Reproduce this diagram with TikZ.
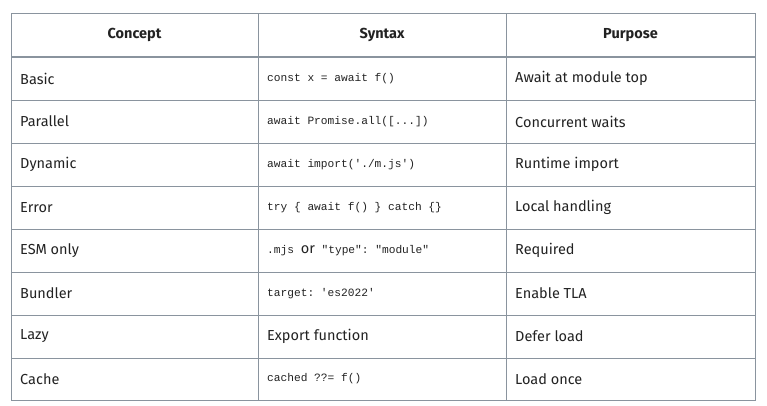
\documentclass[tikz,border=0pt]{standalone}
\usepackage{fontspec}
\setmainfont{Fira Sans}
\setmonofont{Liberation Mono}
\usetikzlibrary{positioning}
\definecolor{gridgray}{HTML}{8A949E}
\definecolor{textdark}{HTML}{222222}
\tikzset{
  cell/.style={anchor=west, font=\fontsize{14.5}{16}\selectfont, text=textdark, inner sep=0pt},
  code/.style={anchor=west, font=\ttfamily\fontsize{11.2}{13}\selectfont, text=textdark, inner sep=0pt},
  head/.style={font=\fontsize{14.5}{16}\selectfont\bfseries, text=textdark, inner sep=0pt}
}
\begin{document}
\begin{tikzpicture}[x=1pt, y=-1pt]
    \useasboundingbox (0,0) rectangle (767,405);
    % Grid
    \draw[gridgray, line width=0.8pt] (11,13) rectangle (755,400);
    \draw[gridgray, line width=0.8pt] (258,13) -- (258,400) (506,13) -- (506,400);
    \foreach \y in {100,143,186,229,272,315,358}
      \draw[gridgray, line width=0.8pt] (11,\y) -- (755,\y);
    \draw[gridgray, line width=2pt] (11,57) -- (755,57);

    % Header
    \node[head] (hconcept) at (134.5,35) {Concept};
    \node[head] (hsyntax) at (382,35) {Syntax};
    \node[head] (hpurpose) at (630.5,35) {Purpose};

    % Rows
    \node[cell] (c1) at (20,78.5) {Basic};
    \node[code] (s1) at (267,78.5) {const x = await f()};
    \node[cell] (p1) at (515,78.5) {Await at module top};

    \node[cell] (c2) at (20,121.5) {Parallel};
    \node[code] (s2) at (267,121.5) {await Promise.all([...])};
    \node[cell] (p2) at (515,121.5) {Concurrent waits};

    \node[cell] (c3) at (20,164.5) {Dynamic};
    \node[code] (s3) at (267,164.5) {await import('./m.js')};
    \node[cell] (p3) at (515,164.5) {Runtime import};

    \node[cell] (c4) at (20,207.5) {Error};
    \node[code] (s4) at (267,207.5) {try \{ await f() \} catch \{\}};
    \node[cell] (p4) at (515,207.5) {Local handling};

    \node[cell] (c5) at (20,250.5) {ESM only};
    \node[code] (s5) at (267,250.5) {.mjs {\rmfamily\fontsize{14.5}{16}\selectfont or} "type": "module"};
    \node[cell] (p5) at (515,250.5) {Required};

    \node[cell] (c6) at (20,293.5) {Bundler};
    \node[code] (s6) at (267,293.5) {target: 'es2022'};
    \node[cell] (p6) at (515,293.5) {Enable TLA};

    \node[cell] (c7) at (20,336.5) {Lazy};
    \node[cell] (s7) at (267,336.5) {Export function};
    \node[cell] (p7) at (515,336.5) {Defer load};

    \node[cell] (c8) at (20,379) {Cache};
    \node[code] (s8) at (267,379) {cached ??= f()};
    \node[cell] (p8) at (515,379) {Load once};
\end{tikzpicture}
\end{document}
